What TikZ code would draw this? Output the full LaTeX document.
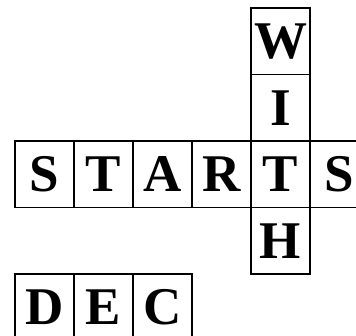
\documentclass[tikz,border=0pt]{standalone}
\usepackage{fontspec}
\setmainfont{Liberation Serif}
\usepackage{tikz}
\usetikzlibrary{positioning}

\begin{document}
\begin{tikzpicture}[
  x=1pt, y=-1pt,
  font=\fontsize{53}{53}\selectfont\bfseries,
  cell/.style={draw, line width=1.1pt, minimum width=59pt, minimum height=66.5pt,
               inner sep=0pt, outer sep=0pt, anchor=center}
]
\path[use as bounding box, clip] (0,0) rectangle (356,336);
% down word
\node[cell] (w) at (280.5,41.25) {W};
\node[cell] (i) at (280.5,107.75) {I};
% across word
\node[cell] (s1) at (44.5,174.25) {S};
\node[cell] (t1) at (103.5,174.25) {T};
\node[cell] (a) at (162.5,174.25) {A};
\node[cell] (r) at (221.5,174.25) {R};
\node[cell] (t2) at (280.5,174.25) {T};
\node[cell] (s2) at (339.5,174.25) {S};
\node[cell] (h) at (280.5,240.75) {H};
% second word
\node[cell] (d) at (44.5,307.25) {D};
\node[cell] (e) at (103.5,307.25) {E};
\node[cell] (c) at (162.5,307.25) {C};
\end{tikzpicture}
\end{document}
